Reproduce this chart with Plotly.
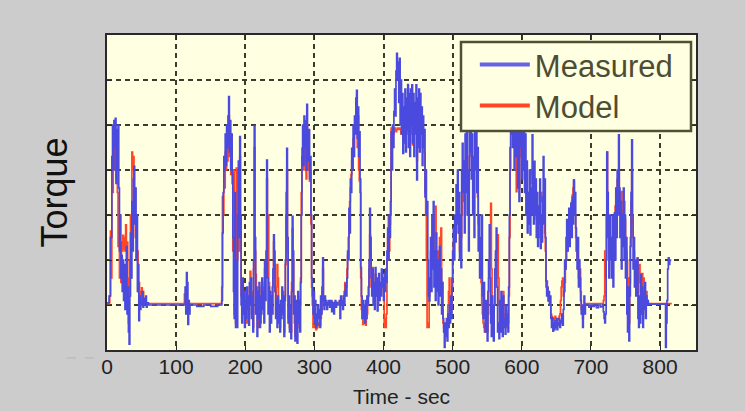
import plotly.graph_objects as go

# ---------------- data (Torque vs time) ----------------
# Measured: segments sampled every 1 s (start time + values), plus sparse idle parts
meas_a_t = [0, 1, 3, 5, 7, 8, 9, 10, 11, 12, 13, 14, 15, 16, 17, 18, 19, 20, 21, 22,
            23, 24, 25, 26, 27, 28, 29, 30, 31, 32, 33, 34, 35, 36, 37, 38, 39, 40, 41, 42,
            43, 44, 45, 46, 47, 48, 49, 50, 51, 52, 53, 54, 56, 57, 58, 60]
meas_a_v = [5, 5, 20, 150, 330, 400, 300, 410, 350, 415, 270, 390, 300, 400, 260, 120, 200, 60, 110, 30,
            100, 10, 90, -10, 60, 130, -20, 40, -60, -87, 20, 160, 60, 230, 120, 280, 308, 180, 260, 100,
            200, 30, 90, -35, 20, -10, 10, 0, 30, -5, 15, 0, 20, -5, 5, 0]

meas_b_t = [62, 75, 90, 105, 111, 112, 113, 114, 115, 116, 117, 118, 119, 120, 122, 130, 140, 150, 160, 164]
meas_b_v = [0, 0, 0, 0, 0, 0, 40, -20, 72, 50, -43, 10, -20, 0, 0, -3, 0, -3, 0, 0]

meas_c_start = 165
meas_c_v = [0, 10, 160, 250, 330, 300, 380, 310, 400, 350,
            420, 463, 340, 410, 300, 380, 290, 150, 30, -30,
            250, -50, 100, -50, 200, 320, 150, 374, 200, 0,
            -40, 60, -20, 30, -50, 10, -30, 40, -10, 20,
            -45, 50, 0, 60, -30, 20, -60, 100, 398, 150,
            -20, 40, -70, 30, -30, 50, -50, 20, -20, 60,
            -10, 30, -40, 100, 10, 120, 322, 60, -20, 40,
            -60, 30, -40, 20, -20, 80, 156, 120, 30, -30,
            10, -50, 20, -40, 0, -60, 10, -30, 40, -20,
            20, -70, 10, 100, 200, 348, 150, -40, 20, -60,
            0, -75, 30, 197, 120, -20, 20, -80, 10, -50,
            -85, 30, -40, 10, -60, 50, 200, 330, 400, 310,
            420, 350, 410, 300, 446, 380, 320, 390, 280, 330,
            200, 60, 20, -20, 30, -40]

meas_d_start = 301
meas_d_v = [10, -50, -20, -45, 0, -30, -10, -50, 20, -20,
            40, 105, 10, -10, 20, 0, 10, -10, 5, 0,
            10, -5, 0, 10, -15, 0, 5, -20, 0, 10,
            -5, 5, 0, 0, 0, 10, -30, 20, 0, 10,
            -10, 20, 0, 30, 46, 20, 60, 120, 100, 215,
            160, 280, 250, 348, 300, 400, 330, 420, 380, 460,
            477, 370, 440, 330, 385, 280, 83, 20, -30, 10,
            -28, 0, -40, 10, -30, 20, 0, 40, 100, 215,
            150, 60, 20, 80, 0, 50, -10, 83, 20, 60,
            -13, 40, 70, 10, 50, 20, 80, 40, 60, 10,
            70, 30, 80, 50, 120, 171, 100, 200, 150, 230,
            385, 300, 400, 350, 430, 480, 420, 520, 559, 500,
            540, 450]

meas_e_start = 423
meas_e_v = [548, 400, 500, 380, 470, 337, 440, 360, 480, 340,
            460, 390, 490, 350, 470, 330, 480, 400, 489, 360,
            470, 330, 450, 380, 489, 278, 460, 350, 480, 340,
            470, 380, 440, 310, 420, 350, 390, 240, 300, 200,
            230, 100, 20, 9, 60, 150, 30, 200, 80, 230,
            40, 120, 10, 160, 30, 100, 0, 60, 130, 20,
            80, -20, 50, -30, -60, -94, -40, -70, -30, -80,
            -20, -50, 0, -40, 20, -30, 60, 120, 171, 100,
            200, 140, 267, 180, 300, 160, 250, 100, 200, 83,
            300, 359, 250, 320, 160, 380, 250, 420, 200, 300,
            120, 400, 340, 450, 280, 380, 200, 330, 150, 430,
            300, 400, 250, 350, 120, 200, 60, 150]

meas_f_start = 541
meas_f_v = [60, 200, 20, -30, 50, -28, -60, 10, -50, -80,
            30, 100, 178, 60, -40, -70, 20, -50, -80, 0,
            80, 120, 171, 40, -60, -40, -75, 10, -60, 30,
            -40, -70, 20, -50, -30, -65, 0, -45, -20, -60,
            40, 200, 350, 450, 380, 500, 350, 480, 300, 420,
            520, 330, 480, 260, 400, 230, 510, 350, 460, 280,
            420, 300, 500, 250, 380, 200, 320, 160, 250, 180,
            300, 156, 260, 200, 378, 250, 180, 319, 200, 280,
            150, 250, 130, 220, 180, 280, 126, 200, 140, 240,
            330, 180, 280, 150, 53, 20, 40, 9, 30, 0]

meas_g_start = 641
meas_g_v = [20, -30, -50, -28, -58, -40, -55, -35, -50, -30,
            -55, -40, -45, -30, -50, -35, -40, -20, -45, -10,
            30, 100, 80, 150, 190, 120, 170, 215, 130, 200,
            226, 150, 240, 180, 278, 200, 250, 171, 120, 80,
            150, 40, 100, 60, 10, -20, 0, -50, -10, 20, -20, 0]

meas_g2_t = [694, 697, 699, 702, 705, 708, 711, 714, 717]
meas_g2_v = [0, -5, 0, -3, 0, -6, 0, -4, 0]

meas_h_start = 718
meas_h_v = [-15, -30, -40, -20, 100, 340, 250, 150, 60, 200,
            100, 150, 60, 200, 40, 120, 205, 100, 260, 150,
            300, 200, 378, 260, 150, 230, 80, 200, 130, 260,
            100, 200, 60, 150, -20, -60, 40, -80, 20, 130,
            250, 367, 200, 80, 150, 40, 100, 20, 60, 104,
            -30, -50, 20, -40, 68, -20, 40, -50, 30, -10,
            50, -30, 20, 0, 10, 0]

meas_i_t = [784, 788, 792, 796, 800, 804, 807, 808, 809, 810, 811, 812, 813, 814, 815]
meas_i_v = [2, 2, 2, 2, 2, 2, 2, -94, -40, 10, 80, 105, 90, 100, 97]

# Model
model_a_start = 0
model_a_v = [3, 3, 3, 5, 20, 164, 60, 315, 250, 300,
             380, 300, 360, 280, 350, 250, 130, 200, 60, 120,
             50, 140, 120, 155, 125, 150, 120, 178, 130, 140,
             60, -40, 20, 100, 200, 150, 340, 300, 330, 200,
             260, 150, 200, 100, 120, 30, 50, 10, 30, 5,
             38, 15, 30, 5, 10, 3, 3]

model_b_t = [60, 80, 100, 110, 111, 112, 113, 114, 115, 116, 117, 118, 119, 120, 140, 164]
model_b_v = [3, 3, 3, 3, 3, 24, 3, 5, 10, 8, 0, 3, 3, 3, 3, 3]

model_c_start = 165
model_c_v = [3, 40, 241, 200, 300, 260, 340, 300, 380, 320,
             400, 420, 330, 380, 290, 350, 270, 120, 300, -20,
             200, -40, 304, 100, 250, 300, 120, 330, 150, 20,
             -30, 50, 10, -20, 0, 30, -10, -40, -20, 10,
             20, 40, 75, 20, -20, 30, -50, 80, 350, 120,
             68, 20, -10, -50, 0, 40, 0, -40, 10, 50,
             20, 0, 40, 80, 90, 100, 280, 200, 200, 50,
             10, -30, 0, 20, 40, 60, 140, 90, 30, -20,
             40, 90, 60, -30, -40, -50, -30, -20, 10, 30,
             -20, -60, 20, 90, 250, 300, 120, -30, -40, -50,
             -50, -60, 50, 170, 100, -10, -40, -70, -50, -40,
             0, 20, -20, -50, 0, 60, 250, 348, 330, 300,
             380, 320, 350, 280, 400, 330, 300, 320, 275, 300,
             180, 40, 0, -50, -48, -45, -50, -55, -52, -50,
             -45, -40, -42, -45, -30, -10, 30, 80, 10, 3]

model_c2_t = [318, 322, 326, 330, 334, 338, 341]
model_c2_v = [3, 8, 1, 6, 3, 3, 3]

model_d_start = 342
model_d_v = [20, 30, 50, 45, 40, 80, 110, 150, 200, 230,
             260, 290, 320, 340, 370, 380, 400, 410, 430, 440,
             350, 420, 300, 275, 250, 60, -10, -30, -43, -40,
             -30, -40, -45, -30, -20, 0, 20, 80, 156, 120,
             40, 60, 83, 50, 20, 40, 68, 50, 40, 20,
             0, 30, 50, 40, 30, 45, 60, 40, 20, -50,
             -30, -50, -20, 100, 150, 197, 120, 180, 200, 393,
             350, 393, 380, 390, 393, 388, 385, 390, 393, 392, 390]

model_e_start = 423
model_e_v = [393, 390, 380, 390, 400, 385, 370, 390, 410, 395,
             380, 390, 400, 385, 370, 390, 395, 400, 380, 356,
             380, 390, 400, 410, 390, 320, 360, 390, 385, 380,
             390, 400, 380, 350, 370, 380, 340, 250, 200, 100,
             -50, -40, -50, 20, 60, 120, 130, 150, 120, 100,
             150, 200, 219, 100, 110, 120, 100, 90, 150, 120,
             171, 50, -10, -40, -50, -60, -55, -50, -45, -40,
             0, 30, 60, -20, -15, -10, 40, 100, 140, 171,
             160, 150, 200, 230, 267, 200, 160, 120, 130, 150,
             200, 252, 240, 230, 270, 300, 330, 350, 300, 260,
             300, 330, 360, 380, 350, 320, 300, 280, 320, 350,
             360, 340, 300, 240, 180, 150, 120, 80, 50]

model_f_start = 542
model_f_v = [0, -20, -40, -50, -60, -40, -30, -45, -60, -20,
             60, 100, 150, 226, 80, -30, -40, -50, 0, 40,
             80, 120, 140, 156, 60, 0, -40, -35, -30, -40,
             -50, 30, -20, -30, -40, -13, -50, -45, -40, 20,
             150, 300, 400, 410, 420, 400, 380, 390, 400, 330,
             252, 300, 380, 320, 260, 330, 400, 380, 350, 360,
             380, 340, 300, 280, 250, 220, 200, 210, 220, 250,
             290, 295, 300, 270, 240, 245, 250, 220, 200, 190,
             180, 165, 150, 180, 200, 230, 250, 240, 230, 215,
             200, 160, 120, 40, 53, 35, 20, 15, 10]

model_g_start = 641
model_g_v = [0, -20, -25, -30, -32, -35, -30, -25, -30, -35,
             -35, -32, -30, -25, -20, 10, 40, 53, 60, 20,
             30, 50, 80, 100, 120, 140, 160, 180, 200, 190,
             210, 230, 245, 260, 275, 250, 200, 150, 120, 100,
             80, 60, 70, 80, 30, -10, -20, -30, -10, 0, 3, 3]

model_g2_t = [700, 710, 717]
model_g2_v = [3, 3, 3]

model_h_start = 718
model_h_v = [10, 20, 120, 60, 200, 340, 250, 180, 120, 140,
             150, 120, 80, 130, 180, 190, 200, 220, 250, 260,
             280, 290, 300, 250, 200, 230, 252, 210, 180, 200,
             230, 190, 150, 120, 100, 0, 60, -40, 50, 150,
             230, 300, 180, 150, 120, 90, 60, 70, 80, 104,
             20, 50, 90, 60, 30, 50, 70, -20, 60, 30,
             0, 15, 30, 10, 3, 3]

model_i_t = [784, 800, 817]
model_i_v = [3, 3, 3]

x_ticks = [0, 100, 200, 300, 400, 500, 600, 700, 800]
y_grid = [0, 100, 200, 300, 400, 500]


def seq(start, vals):
    return list(range(start, start + len(vals))), list(vals)


def build(parts):
    ts, vs = [], []
    for t, v in parts:
        assert len(t) == len(v)
        ts += list(t)
        vs += list(v)
    return ts, vs


meas_t, meas_v = build([
    (meas_a_t, meas_a_v), (meas_b_t, meas_b_v), seq(meas_c_start, meas_c_v),
    seq(meas_d_start, meas_d_v), seq(meas_e_start, meas_e_v), seq(meas_f_start, meas_f_v),
    seq(meas_g_start, meas_g_v), (meas_g2_t, meas_g2_v), seq(meas_h_start, meas_h_v),
    (meas_i_t, meas_i_v)])

model_t, model_v = build([
    seq(model_a_start, model_a_v), (model_b_t, model_b_v), seq(model_c_start, model_c_v),
    (model_c2_t, model_c2_v), seq(model_d_start, model_d_v), seq(model_e_start, model_e_v),
    seq(model_f_start, model_f_v), seq(model_g_start, model_g_v), (model_g2_t, model_g2_v),
    seq(model_h_start, model_h_v), (model_i_t, model_i_v)])

BLUE = '#4a4ade'
RED = '#ff4626'
SANS = 'Liberation Sans, Arial, sans-serif'
OLIVE = '#4d4d33'

fig = go.Figure()
fig.add_trace(go.Scatter(x=model_t, y=model_v, mode='lines', name='Model',
                         line=dict(color=RED, width=1.7, shape='hv'), showlegend=False))
fig.add_trace(go.Scatter(x=meas_t, y=meas_v, mode='lines', name='Measured',
                         line=dict(color=BLUE, width=1.7, shape='hv'), showlegend=False))
# legend entries (thick samples like the original)
fig.add_trace(go.Scatter(x=[None], y=[None], mode='lines', name='Measured', legend='legend',
                         line=dict(color='#6464e4', width=4)))
fig.add_trace(go.Scatter(x=[None], y=[None], mode='lines', name='Model', legend='legend2',
                         line=dict(color=RED, width=4)))

grid = dict(showgrid=True, gridcolor='#3c3c2c', gridwidth=1.6, griddash='5px,4px',
            showline=True, linecolor='#2a2a2a', linewidth=2, mirror='ticks',
            ticks='inside', ticklen=5, tickcolor='#2a2a2a', zeroline=False, automargin=False)

leg_common = dict(xanchor='left', yanchor='middle', bgcolor='rgba(0,0,0,0)', borderwidth=0,
                  font=dict(family=SANS, size=31, color=OLIVE), itemwidth=50)

fig.update_layout(
    width=745, height=411,
    margin=dict(l=107, r=49, t=35, b=61),
    paper_bgcolor='#cccccc', plot_bgcolor='#ffffe1',
    showlegend=True,
    legend=dict(x=0.6245, y=0.905, **leg_common),
    legend2=dict(x=0.6245, y=0.775, **leg_common),
    xaxis=dict(range=[0, 852], tickvals=x_ticks, ticktext=[str(v) for v in x_ticks],
               tickfont=dict(family=SANS, size=21, color='#222222'),
               ticklabelstandoff=-3,
               title=dict(text='Time - sec', font=dict(family=SANS, size=21, color='#222222'),
                          standoff=12),
               **grid),
    yaxis=dict(range=[-100, 600], tickvals=y_grid, showticklabels=False,
               title=dict(text='Torque', font=dict(family=SANS, size=36, color='#111111'),
                          standoff=26),
               **grid),
    shapes=[
        dict(type='rect', xref='paper', yref='paper', layer='above',
             x0=(461 - 107) / 589, x1=(691 - 107) / 589,
             y0=(350 - 131) / 315, y1=(350 - 42) / 315,
             fillcolor='#ffffe1', line=dict(color='#505035', width=2.5)),
        dict(type='line', xref='paper', yref='paper', x0=-0.068, x1=-0.017,
             y0=-0.025, y1=-0.025, line=dict(color='#b4b4b4', width=1, dash='dash')),
    ],
)

fig.write_html('out.html', config={'displayModeBar': False},
               post_script="document.body.style.margin='0';")
